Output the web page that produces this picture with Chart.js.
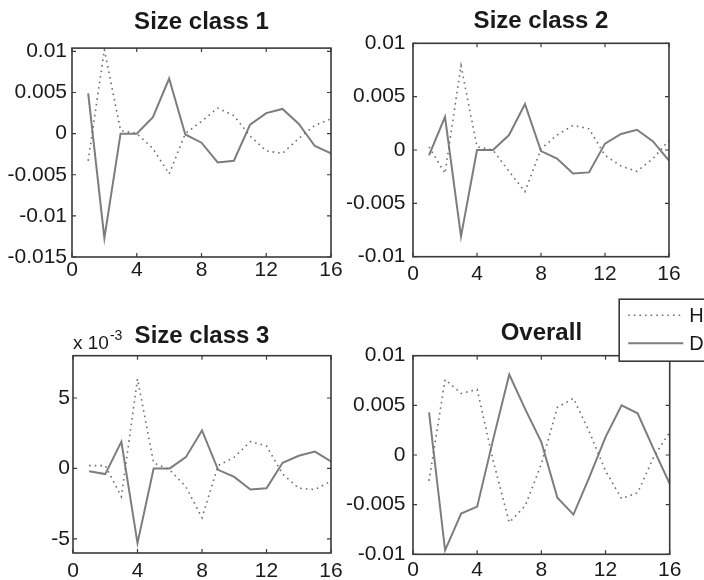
<!DOCTYPE html>
<html lang="en">
<head>
  <meta charset="UTF-8" />
  <title>Size class responses</title>
  <style>
    body { margin: 0; background: #fff; }
    #fig { position: relative; width: 704px; height: 580px; overflow: hidden; background: #fff; }
    canvas { position: absolute; }
  </style>
</head>
<body>
  <div id="fig">
    <canvas id="c1" width="352" height="290" style="left:0;top:0"></canvas>
    <canvas id="c2" width="374" height="290" style="left:330px;top:0"></canvas>
    <canvas id="c3" width="352" height="290" style="left:0;top:290px"></canvas>
    <canvas id="c4" width="374" height="290" style="left:330px;top:290px"></canvas>
  </div>

  <script src="https://cdn.jsdelivr.net/npm/chart.js"></script>
  <script>
    // lags 1..16
    const steps = [1, 2, 3, 4, 5, 6, 7, 8, 9, 10, 11, 12, 13, 14, 15, 16];
    const xTicks = [0, 4, 8, 12, 16];

    // Size class 1
    const h1 = [-0.0033, 0.0102, 0.0004, 0.0000, -0.0018, -0.0049, 0.0000, 0.0015, 0.0031, 0.0022, -0.0003, -0.0021, -0.0024, -0.0006, 0.0010, 0.0018];
    const d1 = [0.0049, -0.0127, 0.0000, 0.0000, 0.0020, 0.0067, -0.0001, -0.0011, -0.0035, -0.0033, 0.0011, 0.0025, 0.0030, 0.0012, -0.0015, -0.0024];
    const yTicks1 = [-0.015, -0.01, -0.005, 0, 0.005, 0.01];
    const yLabels1 = ["-0.015", "-0.01", "-0.005", "0", "0.005", "0.01"];

    // Size class 2
    const h2 = [0.0003, -0.0022, 0.0079, 0.0003, 0.0000, -0.0020, -0.0039, 0.0001, 0.0014, 0.0023, 0.0020, -0.0005, -0.0015, -0.0020, -0.0008, 0.0009];
    const d2 = [-0.0005, 0.0031, -0.0081, 0.0000, 0.0000, 0.0014, 0.0043, -0.0001, -0.0008, -0.0022, -0.0021, 0.0006, 0.0015, 0.0019, 0.0008, -0.0010];
    const yTicks2 = [-0.01, -0.005, 0, 0.005, 0.01];
    const yLabels2 = ["-0.01", "-0.005", "0", "0.005", "0.01"];

    // Size class 3 (values in units of 10^-3)
    const h3 = [0.2, 0.2, -2.0, 6.35, 0.4, -0.1, -1.3, -3.5, 0.2, 0.8, 1.9, 1.6, -0.4, -1.4, -1.5, -0.9];
    const d3 = [-0.2, -0.4, 1.9, -5.3, 0.0, 0.0, 0.8, 2.7, -0.1, -0.6, -1.5, -1.4, 0.4, 0.9, 1.2, 0.5];
    const yTicks3 = [-5, 0, 5];
    const yLabels3 = ["-5", "0", "5"];

    // Overall
    const h4 = [-0.0026, 0.0076, 0.0062, 0.0066, -0.0006, -0.0068, -0.0051, -0.0009, 0.0048, 0.0057, 0.0023, -0.0016, -0.0044, -0.0038, -0.0002, 0.0023];
    const d4 = [0.0043, -0.0096, -0.0059, -0.0052, 0.0016, 0.0081, 0.0046, 0.0013, -0.0043, -0.0060, -0.0022, 0.0018, 0.0050, 0.0042, 0.0006, -0.0029];
    const yTicks4 = [-0.01, -0.005, 0, 0.005, 0.01];
    const yLabels4 = ["-0.01", "-0.005", "0", "0.005", "0.01"];

    const seriesNames = ["H", "D"];

    const FONT = "'Liberation Sans', Arial, sans-serif";
    const INK = "#1a1a1a";

    // box round the axes with inward ticks on all four sides
    const boxPlugin = {
      id: "box",
      afterDraw(chart) {
        const { ctx, chartArea: a, scales } = chart;
        ctx.save();
        ctx.strokeStyle = "#3a3a3a";
        ctx.lineWidth = 1.6;
        ctx.strokeRect(a.left, a.top, a.width, a.height);
        ctx.lineWidth = 1.2;
        ctx.beginPath();
        scales.x.ticks.forEach(t => {
          const px = scales.x.getPixelForValue(t.value);
          ctx.moveTo(px, a.bottom); ctx.lineTo(px, a.bottom - 4);
          ctx.moveTo(px, a.top); ctx.lineTo(px, a.top + 4);
        });
        scales.y.ticks.forEach(t => {
          const py = scales.y.getPixelForValue(t.value);
          ctx.moveTo(a.left, py); ctx.lineTo(a.left + 4, py);
          ctx.moveTo(a.right, py); ctx.lineTo(a.right - 4, py);
        });
        ctx.stroke();
        ctx.restore();
      }
    };

    // "x 10^-3" multiplier above panel 3
    const expPlugin = {
      id: "exponent",
      afterDraw(chart, args, opts) {
        if (!opts.text) return;
        const { ctx, chartArea: a } = chart;
        ctx.save();
        ctx.fillStyle = INK;
        ctx.textBaseline = "alphabetic";
        ctx.font = "19px " + FONT;
        ctx.fillText(opts.text, a.left, a.top - 7);
        const w = ctx.measureText(opts.text).width;
        ctx.font = "14px " + FONT;
        ctx.fillText(opts.sup, a.left + w + 1, a.top - 16);
        ctx.restore();
      }
    };

    // legend box hanging off the top right of the last panel
    const legendBox = {
      id: "legendBox",
      afterDraw(chart, args, opts) {
        if (!opts.show) return;
        const { ctx, chartArea: a } = chart;
        const left = a.right - 50.5, top = a.top - 56.5;
        ctx.save();
        ctx.fillStyle = "#fff";
        ctx.fillRect(left, top, 140, 62);
        ctx.strokeStyle = "#3a3a3a";
        ctx.lineWidth = 1.6;
        ctx.strokeRect(left, top, 140, 62);
        chart.data.datasets.forEach((ds, i) => {
          const y = top + 16 + i * 28;
          ctx.strokeStyle = ds.borderColor;
          ctx.lineWidth = ds.borderWidth;
          ctx.setLineDash(ds.borderDash || []);
          ctx.beginPath();
          ctx.moveTo(left + 9, y);
          ctx.lineTo(left + 64, y);
          ctx.stroke();
          ctx.setLineDash([]);
          ctx.fillStyle = INK;
          ctx.font = "20px " + FONT;
          ctx.textBaseline = "middle";
          ctx.fillText(ds.label, left + 70, y + 1);
        });
        ctx.restore();
      }
    };

    function makePanel(id, cfg) {
      const pts = arr => steps.map((s, i) => ({ x: s, y: arr[i] }));
      return new Chart(document.getElementById(id), {
        type: "line",
        data: {
          datasets: [
            {
              label: seriesNames[0],
              data: pts(cfg.h),
              borderColor: "#6e6e6e",
              borderWidth: 1.6,
              borderDash: [1.6, 4],
              pointRadius: 0,
              tension: 0,
            },
            {
              label: seriesNames[1],
              data: pts(cfg.d),
              borderColor: "#7d7d7d",
              borderWidth: 2,
              pointRadius: 0,
              tension: 0,
            },
          ],
        },
        plugins: [boxPlugin, expPlugin, legendBox],
        options: {
          responsive: false,
          animation: false,
          devicePixelRatio: 1,
          layout: { padding: cfg.pad },
          scales: {
            x: {
              type: "linear",
              min: 0,
              max: 16,
              grid: { display: false, drawTicks: false },
              border: { display: false },
              afterBuildTicks: s => { s.ticks = xTicks.map(v => ({ value: v })); },
              afterFit: s => { s.height = 24; },
              ticks: {
                padding: cfg.xPad,
                maxRotation: 0,
                color: INK,
                font: { family: FONT, size: 21 },
                callback: v => String(v),
              },
            },
            y: {
              min: cfg.yMin,
              max: cfg.yMax,
              grid: { display: false, drawTicks: false },
              border: { display: false },
              afterBuildTicks: s => { s.ticks = cfg.yTicks.map(v => ({ value: v })); },
              afterFit: s => { s.width = cfg.yWidth; },
              ticks: {
                padding: cfg.yPad,
                color: INK,
                font: { family: FONT, size: 21 },
                callback: v => cfg.yLabels[cfg.yTicks.indexOf(v)],
              },
            },
          },
          plugins: {
            legend: { display: false },
            tooltip: { enabled: false },
            title: {
              display: true,
              fullSize: false,
              text: cfg.title,
              color: INK,
              font: { family: FONT, size: 24, weight: "bold", lineHeight: 1.2 },
              padding: { top: 0, bottom: cfg.titleGap },
            },
            exponent: cfg.exponent || {},
            legendBox: { show: !!cfg.legend },
          },
        },
      });
    }

    makePanel("c1", {
      title: "Size class 1", h: h1, d: d1,
      yMin: -0.015, yMax: 0.0104, yTicks: yTicks1, yLabels: yLabels1,
      yWidth: 72, yPad: 5, xPad: 1, titleGap: 11.4,
      pad: { left: 0, right: 21, top: 7.9, bottom: 9 },
    });
    makePanel("c2", {
      title: "Size class 2", h: h2, d: d2,
      yMin: -0.01, yMax: 0.01, yTicks: yTicks2, yLabels: yLabels2,
      yWidth: 83, yPad: 7.5, xPad: 4.5, titleGap: 7.1,
      pad: { left: 0, right: 35, top: 7.4, bottom: 9.3 },
    });
    makePanel("c3", {
      title: "Size class 3", h: h3, d: d3,
      yMin: -6, yMax: 8, yTicks: yTicks3, yLabels: yLabels3,
      yWidth: 73, yPad: 3, xPad: 5.6, titleGap: 5.3,
      pad: { left: 0, right: 21, top: 31.6, bottom: 3 },
      exponent: { text: "x 10", sup: "-3" },
    });
    makePanel("c4", {
      title: "Overall", h: h4, d: d4,
      yMin: -0.01, yMax: 0.01, yTicks: yTicks4, yLabels: yLabels4,
      yWidth: 83, yPad: 7.5, xPad: 3.6, titleGap: 8.0,
      pad: { left: 0, right: 34.3, top: 28.9, bottom: 1.7 },
      legend: true,
    });
  </script>
</body>
</html>
